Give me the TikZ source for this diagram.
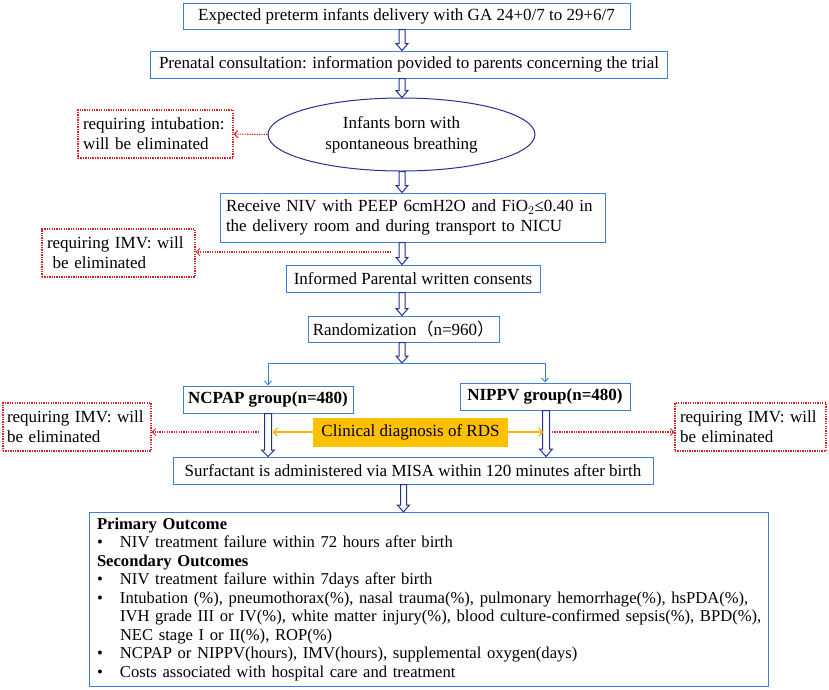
\documentclass[tikz,border=0pt]{standalone}
\usepackage{fontspec}
\setmainfont{Liberation Serif}
\newfontfamily\cjk{Noto Sans CJK SC}
\usetikzlibrary{arrows.meta,calc,shapes.geometric}
\definecolor{boxblue}{HTML}{3F80D6}
\definecolor{navy}{HTML}{23308F}
\definecolor{elimred}{HTML}{D42424}
\definecolor{orangefill}{HTML}{FFC000}
\definecolor{orangeline}{HTML}{FFB000}
\tikzset{
  txt/.style={font=\fontsize{17}{20}\selectfont},
  box/.style={txt, draw=boxblue, line width=1pt, fill=white, inner sep=0pt},
  elim/.style={txt, draw=elimred, line width=1.1pt, dash pattern=on 1.3pt off 1.1pt, align=left, inner sep=0pt, text width=#1},
  harr/.style={draw=navy, line width=1pt, fill=white, line join=miter},
  redarr/.style={draw=elimred, line width=1.1pt, dash pattern=on 1.3pt off 1.1pt, -{Straight Barb[length=3.5pt,width=7pt,line width=1pt]}},
  orarr/.style={draw=orangeline, line width=1.2pt, -{Straight Barb[length=4pt,width=8pt,line width=1.2pt]}},
  branch/.style={draw=boxblue, line width=1pt, -{Straight Barb[length=4pt,width=7pt,line width=0.9pt]}},
}
% hollow down arrow: #1 top point, #2 tip point, #3 half shaft, #4 half head, #5 head length
\newcommand\harrow[5]{%
  \path[harr] let \p1=#1, \p2=#2 in
    (\x1-#3pt,\y1) -- (\x1-#3pt,\y2+#5pt) -- (\x1-#4pt,\y2+#5pt) -- (\x1,\y2)
    -- (\x1+#4pt,\y2+#5pt) -- (\x1+#3pt,\y2+#5pt) -- (\x1+#3pt,\y1) -- cycle;}
\begin{document}
\begin{tikzpicture}[x=1pt,y=-1pt]
\useasboundingbox (0,0) rectangle (829,689);
\coordinate (ax) at (402,0);

\node[box, minimum width=447pt, minimum height=26pt] (b1) at (406.5,16)
  {Expected preterm infants delivery with GA 24+0/7 to 29+6/7};
\node[box, minimum width=517pt, minimum height=27pt] (b2) at (409,64.5)
  {Prenatal consultation: information povided to parents concerning the trial};
\node[txt, font=\fontsize{17}{21}\selectfont, ellipse, draw=navy, line width=1pt, minimum width=267pt, minimum height=73pt, inner sep=0pt, align=center] (ell) at (401.5,134.5)
  {Infants born with\\spontaneous breathing};
\node[elim=145pt, minimum width=155pt, minimum height=48pt] (e1) at (155.5,134)
  {requiring intubation:\\will be eliminated};
\node[box, minimum width=385pt, minimum height=49pt, align=left, text width=373pt] (b4) at (412.5,217.5)
  {Receive NIV with PEEP 6cmH2O and FiO$_2$≤0.40 in\\the delivery room and during transport to NICU};
\node[elim=143pt, minimum width=153pt, minimum height=48pt] (e2) at (118.5,253)
  {requiring IMV: will\\\ be eliminated};
\node[box, minimum width=254pt, minimum height=27pt] (b5) at (413,278.5)
  {Informed Parental written consents};
\node[box, minimum width=191pt, minimum height=26pt] (b6) at (403.5,329)
  {Randomization{\cjk （}n=960{\cjk ）}};
\node[box, minimum width=170pt, minimum height=27pt, font=\fontsize{17}{19}\selectfont\bfseries] (nc) at (268,399.5)
  {NCPAP group(n=480)};
\node[box, minimum width=170pt, minimum height=27pt, font=\fontsize{17}{19}\selectfont\bfseries] (ni) at (545,396.5)
  {NIPPV group(n=480)};
\node[txt, fill=orangefill, minimum width=195pt, minimum height=29pt, inner sep=0pt] (ob) at (410.5,432)
  {Clinical diagnosis of RDS};
\node[elim=140pt, minimum width=148pt, minimum height=48pt] (e3) at (77,427)
  {requiring IMV: will\\be eliminated};
\node[elim=141pt, minimum width=151pt, minimum height=48pt] (e4) at (750.5,427)
  {requiring IMV: will\\be eliminated};
\node[box, minimum width=480pt, minimum height=27pt] (sf) at (413,470.5)
  {Surfactant is administered via MISA within 120 minutes after birth};
\node[box, anchor=north west, minimum width=679pt, minimum height=174pt, text width=674pt, align=left, inner sep=0pt] (out) at (89,512) {%
\fontsize{16.6}{18.5}\selectfont\hspace*{5pt}\begin{tabular}[t]{@{}p{23pt}@{}l@{}}
\multicolumn{2}{@{}l}{\textbf{Primary Outcome}}\\
•&NIV treatment failure within 72 hours after birth\\
\multicolumn{2}{@{}l}{\textbf{Secondary Outcomes}}\\
•&NIV treatment failure within 7days after birth\\
•&Intubation (\%), pneumothorax(\%), nasal trauma(\%), pulmonary hemorrhage(\%), hsPDA(\%),\\
&IVH grade III or IV(\%), white matter injury(\%), blood culture-confirmed sepsis(\%), BPD(\%),\\
&NEC stage I or II(\%), ROP(\%)\\
•&NCPAP or NIPPV(hours), IMV(hours), supplemental oxygen(days)\\
•&Costs associated with hospital care and treatment
\end{tabular}};

% hollow arrows main chain
\harrow{(b1.south -| ax)}{(b2.north -| ax)}{3}{6}{7}
\harrow{(b2.south -| ax)}{(ell.north -| ax)}{3}{6}{7}
\harrow{(ell.south -| ax)}{(b4.north -| ax)}{3}{6}{7}
\harrow{(b4.south -| ax)}{(b5.north -| ax)}{3}{6}{7}
\harrow{(b5.south -| ax)}{(b6.north -| ax)}{3}{6}{7}
\coordinate (split) at (402,363);
\harrow{(b6.south -| ax)}{(split)}{3}{6}{7}
\coordinate (ax2) at (403.5,0);
\harrow{(sf.south -| ax2)}{(out.north -| ax2)}{3}{6}{7}

% branch
\draw[branch] (split) -| (nc.north);
\draw[branch] (split) -| (ni.north);

% tall arrows
\coordinate (axl) at (268,0);
\coordinate (axr) at (546,0);
\harrow{(nc.south -| axl)}{(sf.north -| axl)}{3.5}{6.5}{6.5}
\harrow{(ni.south -| axr)}{(sf.north -| axr)}{3.5}{6.5}{7.5}

% orange arrows
\coordinate (ol) at (272.5,432);
\coordinate (or) at (543.5,432);
\draw[orarr] (ob.west) -- (ol);
\draw[orarr] (ob.east) -- (or);

% red elimination arrows
\draw[redarr] (ell.west) -- (e1.east);
\coordinate (r2) at (391,252);
\draw[redarr] (r2) -- (e2.east |- r2);
\coordinate (r3) at (259,432);
\draw[redarr] (r3) -- (e3.east |- r3);
\coordinate (r4) at (552,432);
\draw[redarr] (r4) -- (e4.west |- r4);
\end{tikzpicture}
\end{document}
